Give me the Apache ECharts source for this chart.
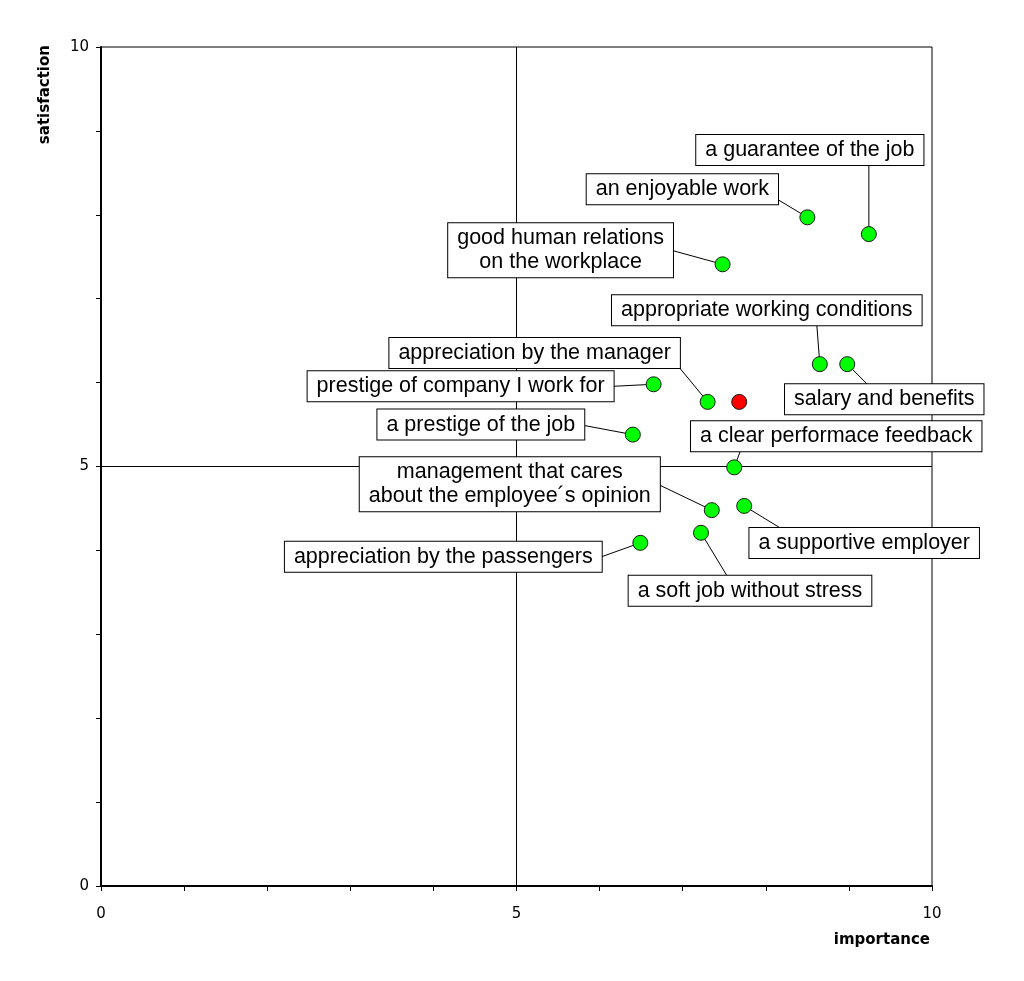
<!DOCTYPE html>
<html>
<head>
<meta charset="utf-8">
<script src="https://cdn.jsdelivr.net/npm/echarts@6/dist/echarts.min.js"></script>
<style>html,body{margin:0;padding:0;background:#fff}#c{width:1024px;height:981px}</style>
</head>
<body>
<div id="c"></div>
<script>
// ---- data ----
const names = [
  'a guarantee of the job',
  'an enjoyable work',
  'good human relations\non the workplace',
  'appropriate working conditions',
  'salary and benefits',
  'appreciation by the manager',
  'prestige of company I work for',
  'a prestige of the job',
  'a clear performace feedback',
  'management that cares\nabout the employee´s opinion',
  'a supportive employer',
  'appreciation by the passengers',
  'a soft job without stress',
  ''
];
const importance   = [9.24, 8.50, 7.48, 8.65, 8.98, 7.30, 6.65, 6.40, 7.62, 7.35, 7.74, 6.49, 7.22, 7.68];
const satisfaction = [7.77, 7.97, 7.41, 6.22, 6.22, 5.77, 5.98, 5.38, 4.99, 4.48, 4.53, 4.09, 4.21, 5.77];
const highlighted  = [false, false, false, false, false, false, false, false, false, false, false, false, false, true];
const tickLabels = [0, 5, 10];

// ---- label layout (pixel offsets of label box centres and leader-line ends from their points) ----
const labelShift = [
  [-59, -84], [-125, -28], [-162, -14], [-53, -54], [37, 35], [-173, -49],
  [-193, 2], [-152, -10], [102, -31], [-202, -26], [120, 37], [-197, 14], [49, 58], [0, 0]
];
const leaderEnd = [
  [0, -69], [-30, -18], [-51, -14], [-3, -39], [20, 20], [-28, -34],
  [-40, 2], [-48, -9], [6, -16], [-52, -25], [36, 22], [-39, 14], [26, 43], null
];

const seriesData = names.map((n, i) => ({
  value: [importance[i], satisfaction[i]],
  name: n,
  itemStyle: { color: highlighted[i] ? '#ff0000' : '#00ff00' },
  label: { show: n !== '' }
}));
const lineData = names.map((n, i) => [importance[i], satisfaction[i]]);

const chart = echarts.init(document.getElementById('c'), null, { renderer: 'canvas' });
const axisCommon = {
  type: 'value', min: 0, max: 10, interval: 1,
  axisLine: { show: true, lineStyle: { color: '#000', width: 2 } },
  axisTick: { show: true, inside: false, length: 5, lineStyle: { color: '#000', width: 1 } },
  splitLine: { show: false },
  axisLabel: {
    color: '#000', fontFamily: 'DejaVu Sans', fontSize: 15,
    formatter: v => tickLabels.indexOf(v) >= 0 ? String(v) : ''
  }
};
chart.setOption({
  animation: false,
  backgroundColor: '#fff',
  grid: { left: 101, right: 92, top: 47, bottom: 95, show: true, borderColor: '#000', borderWidth: 1, backgroundColor: 'transparent' },
  xAxis: Object.assign({}, axisCommon, { axisLabel: Object.assign({}, axisCommon.axisLabel, { margin: 21 }) }),
  yAxis: Object.assign({}, axisCommon, { axisLabel: Object.assign({}, axisCommon.axisLabel, { margin: 12 }) }),
  graphic: [
    { type: 'text', x: 45, y: 45, rotation: Math.PI / 2,
      style: { text: 'satisfaction', font: 'bold 15px "DejaVu Sans"', fill: '#000', align: 'right', verticalAlign: 'middle' } },
    { type: 'text', x: 930, y: 940,
      style: { text: 'importance', font: 'bold 15px "DejaVu Sans"', fill: '#000', align: 'right', verticalAlign: 'middle' } }
  ],
  series: [
    {
      type: 'scatter', data: [], z: 1, silent: true,
      markLine: {
        silent: true, symbol: 'none', label: { show: false },
        lineStyle: { color: '#000', width: 1, type: 'solid' },
        data: [{ xAxis: 5 }, { yAxis: 5 }]
      }
    },
    {
      type: 'custom', z: 2, silent: true, data: lineData,
      renderItem: (params, api) => {
        const e = leaderEnd[params.dataIndex];
        if (!e) return null;
        const p = api.coord([api.value(0), api.value(1)]);
        return { type: 'line', shape: { x1: p[0], y1: p[1], x2: p[0] + e[0], y2: p[1] + e[1] },
                 style: { stroke: '#000', lineWidth: 1 } };
      }
    },
    {
      type: 'scatter',
      symbol: 'circle',
      symbolSize: 15,
      data: seriesData,
      itemStyle: { borderColor: '#1a1a1a', borderWidth: 1, opacity: 1 },
      label: {
        position: 'inside',
        formatter: p => p.name,
        color: '#000',
        fontFamily: 'Liberation Sans, Arial',
        fontSize: 21.5,
        lineHeight: 24,
        backgroundColor: '#fff',
        borderColor: '#000',
        borderWidth: 1,
        padding: [3, 9],
        align: 'center',
        verticalAlign: 'middle'
      },
      labelLayout: p => ({ dx: labelShift[p.dataIndex][0], dy: labelShift[p.dataIndex][1] }),
      z: 5
    }
  ]
});
</script>
</body>
</html>
